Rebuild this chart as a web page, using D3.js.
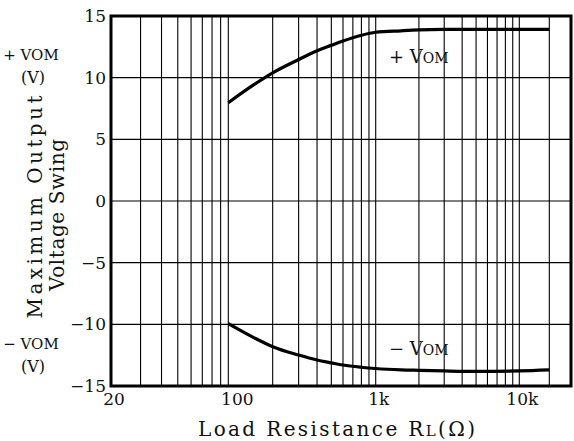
<!DOCTYPE html>
<html><head><meta charset="utf-8">
<script src="https://cdn.jsdelivr.net/npm/d3@7"></script>
<style>
html,body{margin:0;padding:0;background:#fff;}
svg{display:block;}
text{font-family:"DejaVu Serif",serif;fill:#111;}
</style></head>
<body><svg id="c" width="574" height="441"></svg>
<script>
// ---- data ----
const resistance = [100,150,200,300,400,500,600,800,1000,1500,2000,3000,5000,10000,20000];
const vomPos = [7.97,9.45,10.39,11.47,12.18,12.62,12.97,13.44,13.68,13.80,13.87,13.91,13.92,13.92,13.92];
const vomNeg = [-9.95,-11.10,-11.81,-12.49,-12.89,-13.12,-13.30,-13.48,-13.58,-13.69,-13.73,-13.78,-13.82,-13.78,-13.70];
const xTickValues = [20,100,1000,10000];
const xTickLabels = ["20","100","1k","10k"];
const yTickValues = [15,10,5,0,-5,-10,-15];

// ---- layout ----
const L = 111, T = 16, R = 571, B = 386;
const svg = d3.select("#c");
const x = d3.scaleLog().domain([20,100,1000,10000,20000]).range([L,228.3,375.7,519.3,549.3]);
const y = d3.scaleLinear().domain([-15,15]).range([B,T]);

// grid
const gx = x.ticks();
svg.append("g").selectAll("line").data(gx).join("line")
  .attr("x1",d=>x(d)).attr("x2",d=>x(d)).attr("y1",T).attr("y2",B)
  .attr("stroke","#000").attr("stroke-width",1.1);
svg.append("g").selectAll("line").data(yTickValues).join("line")
  .attr("x1",L).attr("x2",R).attr("y1",d=>y(d)).attr("y2",d=>y(d))
  .attr("stroke","#000").attr("stroke-width",1.1);

// frame
svg.append("rect").attr("x",L).attr("y",T).attr("width",R-L).attr("height",B-T)
  .attr("fill","none").attr("stroke","#000").attr("stroke-width",3);

// y tick labels
svg.append("g").selectAll("text").data(yTickValues).join("text")
  .attr("x",106).attr("y",d=>y(d)).attr("dy","0.36em")
  .attr("text-anchor","end").attr("font-size",17)
  .text(d=>d3.format("")(d));

// x tick labels
svg.append("g").selectAll("text").data(xTickValues).join("text")
  .attr("x",(d,i)=>x(d)+(i===1?9:3)).attr("y",405)
  .attr("text-anchor","middle").attr("font-size",17)
  .text((d,i)=>xTickLabels[i]);

// curves
const line = d3.line().x(d=>x(d[0])).y(d=>y(d[1])).curve(d3.curveMonotoneX);
[vomPos,vomNeg].forEach(s=>{
  svg.append("path").datum(resistance.map((r,i)=>[r,s[i]]))
    .attr("d",line).attr("fill","none").attr("stroke","#000").attr("stroke-width",3.2);
});

// in-plot labels
function vomLabel(xp, yp, sign){
  const t = svg.append("text").attr("x",xp).attr("y",yp);
  t.append("tspan").attr("font-size",18).text(sign+" V");
  t.append("tspan").attr("font-size",14).text("OM");
}
vomLabel(389, 63, "+");
vomLabel(389, 355, "\u2212");

// left side labels
function sideLabel(yp, sign){
  svg.append("text").attr("x",31).attr("y",yp).attr("text-anchor","middle")
    .attr("font-size",15).text(sign+" VOM");
  svg.append("text").attr("x",33).attr("y",yp+23).attr("text-anchor","middle")
    .attr("font-size",16).text("(V)");
}
sideLabel(60, "+");
sideLabel(349, "\u2212");

// axis titles
svg.append("text").attr("transform","translate(42,207) rotate(-90)")
  .attr("text-anchor","middle").attr("font-size",20)
  .attr("textLength",223).attr("lengthAdjust","spacing").text("Maximum Output");
svg.append("text").attr("transform","translate(64,215) rotate(-90)")
  .attr("text-anchor","middle").attr("font-size",20)
  .attr("textLength",152).attr("lengthAdjust","spacing").text("Voltage Swing");

const xt = svg.append("text").attr("x",198).attr("y",436).attr("font-size",20)
  .attr("textLength",277).attr("lengthAdjust","spacing");
xt.append("tspan").text("Load  Resistance  R");
xt.append("tspan").attr("font-size",15).text("L");
xt.append("tspan").text("(\u03A9)");
</script></body></html>
